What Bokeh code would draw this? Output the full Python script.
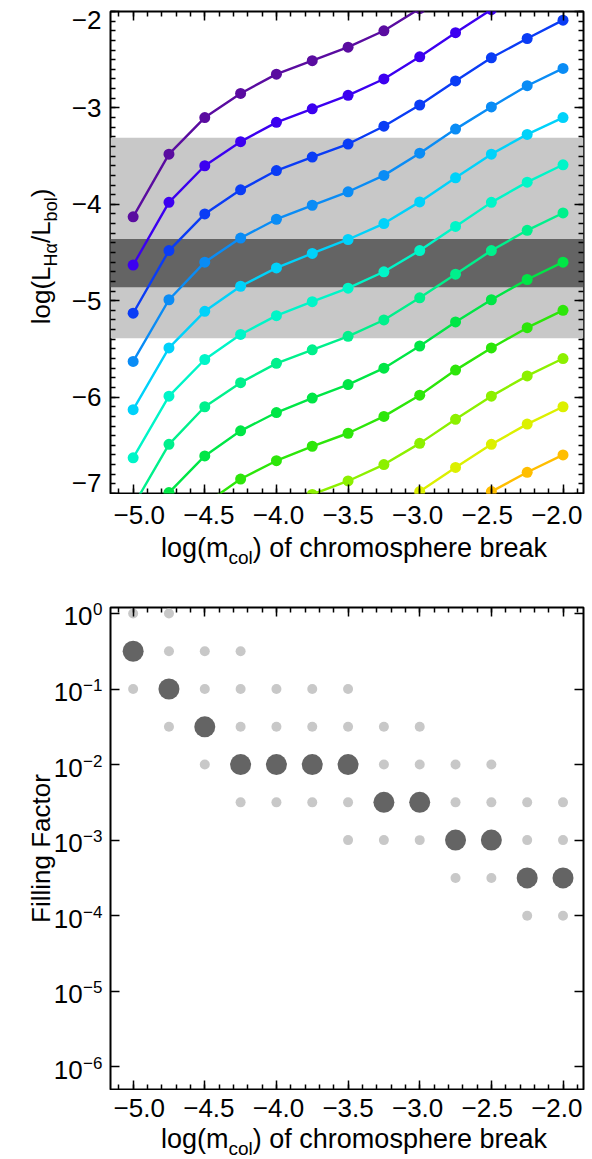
import math
import numpy as np
from bokeh.plotting import figure
from bokeh.layouts import column, row
from bokeh.models import Range1d, LinearAxis, LogAxis, FixedTicker, BoxAnnotation, Label
from bokeh.embed import file_html
from bokeh.resources import INLINE

FONT = "Liberation Sans"
nan = float("nan")

# ---------------- data: top panel ----------------
x_mcol = [-5.0, -4.75, -4.5, -4.25, -4.0, -3.75, -3.5, -3.25, -3.0, -2.75, -2.5, -2.25, -2.0]

curve_1 = [-4.13, -3.48, -3.10, -2.85, -2.65, -2.51, -2.37, -2.20, -1.97, nan, nan, nan, nan]
curve_2 = [-4.63, -3.98, -3.60, -3.35, -3.15, -3.01, -2.87, -2.70, -2.47, -2.22, -1.98, nan, nan]
curve_3 = [-5.13, -4.48, -4.10, -3.85, -3.65, -3.51, -3.375, -3.19, -2.97, -2.72, -2.48, -2.28, -2.09]
curve_4 = [-5.63, -4.99, -4.60, -4.35, -4.155, -4.01, -3.87, -3.70, -3.47, -3.22, -2.99, -2.77, -2.59]
curve_5 = [-6.13, -5.49, -5.11, -4.85, -4.66, -4.51, -4.365, -4.20, -3.975, -3.725, -3.48, -3.275, -3.10]
curve_6 = [-6.63, -5.99, -5.61, -5.35, -5.155, -5.01, -4.87, -4.70, -4.48, -4.23, -3.98, -3.77, -3.59]
curve_7 = [-7.13, -6.49, -6.10, -5.85, -5.65, -5.51, -5.37, -5.20, -4.97, -4.725, -4.48, -4.27, -4.09]
curve_8 = [nan, -6.99, -6.61, -6.35, -6.16, -6.01, -5.87, -5.70, -5.47, -5.22, -4.99, -4.78, -4.60]
curve_9 = [nan, nan, -7.11, -6.85, -6.66, -6.51, -6.375, -6.20, -5.98, -5.72, -5.49, -5.28, -5.10]
curve_10 = [nan, nan, nan, nan, -7.16, -7.01, -6.87, -6.70, -6.48, -6.23, -5.99, -5.78, -5.60]
curve_11 = [nan, nan, nan, nan, nan, nan, nan, -7.20, -6.98, -6.73, -6.49, -6.28, -6.10]
curve_12 = [nan, nan, nan, nan, nan, nan, nan, nan, nan, -7.23, -6.98, -6.78, -6.60]

curve_colors = ["#5a0ca0", "#3c00f0", "#0a3cf5", "#0a8cf5", "#00d2fa", "#00f5c8",
                "#00f08c", "#00e646", "#2de60a", "#8cf000", "#dcf000", "#ffbe00"]

band_light = [-5.39, -3.31]
band_dark = [-4.86, -4.36]

# ---------------- data: bottom panel ----------------
best_x = [-5.0, -4.75, -4.5, -4.25, -4.0, -3.75, -3.5, -3.25, -3.0, -2.75, -2.5, -2.25, -2.0]
best_y = [0.316, 0.1, 0.0316, 0.01, 0.01, 0.01, 0.01, 0.00316, 0.00316, 0.001, 0.001, 0.000316, 0.000316]

alt_x = [-5.0, -5.0,
         -4.75, -4.75, -4.75,
         -4.5, -4.5, -4.5,
         -4.25, -4.25, -4.25, -4.25,
         -4.0, -4.0, -4.0,
         -3.75, -3.75, -3.75,
         -3.5, -3.5, -3.5, -3.5,
         -3.25, -3.25, -3.25,
         -3.0, -3.0, -3.0,
         -2.75, -2.75, -2.75,
         -2.5, -2.5, -2.5,
         -2.25, -2.25, -2.25,
         -2.0, -2.0, -2.0]
alt_y = [1.0, 0.1,
         1.0, 0.316, 0.0316,
         0.316, 0.1, 0.01,
         0.316, 0.1, 0.0316, 0.00316,
         0.1, 0.0316, 0.00316,
         0.1, 0.0316, 0.00316,
         0.1, 0.0316, 0.00316, 0.001,
         0.0316, 0.01, 0.001,
         0.0316, 0.01, 0.001,
         0.01, 0.00316, 0.000316,
         0.01, 0.00316, 0.000316,
         0.00316, 0.001, 0.0001,
         0.00316, 0.001, 0.0001]

# ---------------- ticks ----------------
x_ticks = [-5.0, -4.5, -4.0, -3.5, -3.0, -2.5, -2.0]
x_tick_labels = ["\u22125.0", "\u22124.5", "\u22124.0", "\u22123.5", "\u22123.0", "\u22122.5", "\u22122.0"]
y_ticks_top = [-7.0, -6.0, -5.0, -4.0, -3.0, -2.0]
y_tick_labels_top = ["\u22127", "\u22126", "\u22125", "\u22124", "\u22123", "\u22122"]
y_ticks_bottom = [1e-6, 1e-5, 1e-4, 1e-3, 1e-2, 1e-1, 1.0]
y_tick_base_bottom = "10"
y_tick_exp_bottom = ["\u22126", "\u22125", "\u22124", "\u22123", "\u22122", "\u22121", "0"]

x_minor = [round(-5.1 + 0.1 * i, 2) for i in range(33)]
y_minor_top = [round(-7.0 + 0.1 * i, 2) for i in range(51)]

X_RANGE = (-5.158, -1.857)
Y_RANGE_TOP = (-7.0, -2.0)
Y_RANGE_BOT = (5e-7, 1.2)

# ---------------- layout constants ----------------
STRIP_W = 103          # left strip holding y tick labels + y title
MAIN_W = 487           # main figure width
BL, BR = 7, 7
FRAME_W = MAIN_W - BL - BR   # 473
FRAME_H = 482
ROW1_H, ROW2_H = 590, 569
P1_TOP, P2_TOP = 11, 17
P_BOTTOM = 1
P1_H = P1_TOP + FRAME_H + P_BOTTOM
P2_H = P2_TOP + FRAME_H + P_BOTTOM
XT1_H = ROW1_H - P1_H
XT2_H = ROW2_H - P2_H

TICK_FS = 26
EXP_FS = 17
XTITLE_FS, XSUB_FS = 27, 19
YTITLE_FS, YSUB_FS = 26, 18
MID = 0.3465   # middle of the text box above the baseline, in em

CW = {'l': 222, 'o': 556, 'g': 556, '(': 333, ')': 333, 'm': 833, 'c': 500, ' ': 278,
      'f': 278, 'h': 556, 'r': 333, 's': 500, 'p': 556, 'e': 556, 'b': 556, 'a': 556,
      'k': 500, 'L': 556, 'H': 722, '\u03b1': 579, '/': 278, 'F': 611, 'i': 222,
      'n': 556, 't': 278, '\u2212': 584, '0': 556, '1': 556, '2': 556, '3': 556,
      '4': 556, '5': 556, '6': 556, '7': 556}


def tw(s, size):
    return sum(CW.get(ch, 556) for ch in s) * size / 1000.0


def lab(p, **kw):
    base = dict(text_font=FONT, text_color="black")
    base.update(kw)
    p.add_layout(Label(**base))


def add_hlabel(p, pieces, cx, yb):
    """pieces placed left to right; cx in screen px; yb = baseline (screen, upward)."""
    total = sum(tw(t, s) for t, s, d in pieces)
    x = cx - total / 2.0
    for t, s, d in pieces:
        lab(p, x=x, y=yb - d + MID * s, x_units="screen", y_units="screen", text=t,
            text_font_size=f"{s}px", text_align="left", text_baseline="middle")
        x += tw(t, s)


def add_vlabel(p, pieces, xb, cy):
    """pieces rotated 90deg, reading upward; xb = baseline x (screen units)."""
    total = sum(tw(t, s) for t, s, d in pieces)
    y = cy - total / 2.0
    for t, s, d in pieces:
        lab(p, x=xb + d - MID * s, y=y, x_units="screen", y_units="screen", text=t,
            angle=90, angle_units="deg", text_font_size=f"{s}px", text_align="left",
            text_baseline="middle")
        y += tw(t, s)


def style_axis(ax):
    ax.axis_line_color = None
    ax.major_tick_in = 9
    ax.major_tick_out = 0
    ax.minor_tick_in = 5
    ax.minor_tick_out = 0
    ax.major_tick_line_width = 1.5
    ax.minor_tick_line_width = 1.5
    ax.major_tick_line_color = "black"
    ax.minor_tick_line_color = "black"
    ax.axis_label = None
    ax.major_label_text_color = None     # tick labels are drawn in the text strips
    ax.major_label_standoff = 0
    ax.axis_label_standoff = 0


def main_fig(height, top, y_range, y_type="linear"):
    p = figure(width=MAIN_W, height=height, x_range=Range1d(*X_RANGE), y_range=y_range,
               y_axis_type=y_type, output_backend="svg", toolbar_location=None, title=None,
               min_border_left=BL, min_border_right=BR, min_border_top=top,
               min_border_bottom=P_BOTTOM)
    p.xgrid.grid_line_color = None
    p.ygrid.grid_line_color = None
    p.outline_line_color = "black"
    p.outline_line_width = 2
    p.background_fill_color = "white"
    p.border_fill_color = "white"
    return p


def text_fig(w, h, x_range=None, y_range=None, y_type="linear"):
    p = figure(width=w, height=h,
               x_range=x_range if x_range is not None else Range1d(0, w),
               y_range=y_range if y_range is not None else Range1d(0, h),
               y_axis_type=y_type, output_backend="svg", toolbar_location=None, title=None,
               min_border=0, min_border_left=0, min_border_right=0, min_border_top=0,
               min_border_bottom=0)
    for a in p.axis:
        a.visible = False
    p.xgrid.visible = False
    p.ygrid.visible = False
    p.outline_line_color = None
    p.background_fill_color = "white"
    p.border_fill_color = "white"
    return p


def add_axes(p, y_ticks, y_minor, log=False):
    bx = p.xaxis[0]
    bx.ticker = FixedTicker(ticks=x_ticks, minor_ticks=x_minor)
    style_axis(bx)
    ly = p.yaxis[0]
    ly.ticker = FixedTicker(ticks=y_ticks, minor_ticks=y_minor)
    style_axis(ly)
    top = LinearAxis(ticker=FixedTicker(ticks=x_ticks, minor_ticks=x_minor))
    style_axis(top)
    p.add_layout(top, "above")
    right = (LogAxis if log else LinearAxis)(ticker=FixedTicker(ticks=y_ticks, minor_ticks=y_minor))
    style_axis(right)
    p.add_layout(right, "right")


# x mapping of the text strips under the plots equals the frame mapping of the plots
dppx = (X_RANGE[1] - X_RANGE[0]) / FRAME_W
XT_RANGE = (X_RANGE[0] - BL * dppx, X_RANGE[1] + BR * dppx)
xt_title = [("log(m", XTITLE_FS, 0), ("col", XSUB_FS, 7),
            (") of chromosphere break", XTITLE_FS, 0)]


def x_strip(h, label_center_below, title_baseline_below):
    p = text_fig(MAIN_W, h, x_range=Range1d(*XT_RANGE))
    for t, s in zip(x_ticks, x_tick_labels):
        lab(p, x=t, y=h - label_center_below, x_units="data", y_units="screen", text=s,
            text_font_size=f"{TICK_FS}px", text_align="center", text_baseline="middle")
    add_hlabel(p, xt_title, BL + FRAME_W / 2.0, h - title_baseline_below)
    return p


# ================= top panel =================
p1 = main_fig(P1_H, P1_TOP, Range1d(*Y_RANGE_TOP))

p1.add_layout(BoxAnnotation(bottom=band_light[0], top=band_light[1], fill_color="#c8c8c8",
                            fill_alpha=1.0, line_color=None, level="underlay"))
p1.add_layout(BoxAnnotation(bottom=band_dark[0], top=band_dark[1], fill_color="#646464",
                            fill_alpha=1.0, line_color=None, level="underlay"))

curves = [curve_1, curve_2, curve_3, curve_4, curve_5, curve_6,
          curve_7, curve_8, curve_9, curve_10, curve_11, curve_12]
for cv, col in zip(curves, curve_colors):
    ys = np.array(cv, dtype=float)
    xs = np.array(x_mcol, dtype=float)
    p1.line(xs, ys, line_color=col, line_width=2.4)
    p1.scatter(xs, ys, marker="circle", size=11, fill_color=col, line_color=None)

add_axes(p1, y_ticks_top, y_minor_top)

# left strip: y tick labels + y title (same vertical mapping as the frame of p1)
dpp1 = (Y_RANGE_TOP[1] - Y_RANGE_TOP[0]) / FRAME_H
yt1 = text_fig(STRIP_W, ROW1_H,
               y_range=Range1d(Y_RANGE_TOP[0] - (ROW1_H - P1_TOP - FRAME_H) * dpp1,
                               Y_RANGE_TOP[1] + P1_TOP * dpp1))
edge_shift = {-2.0: -8.5, -7.0: 10.5}
for t, s in zip(y_ticks_top, y_tick_labels_top):
    lab(yt1, x=STRIP_W - 2, y=t, x_units="data", y_units="data", text=s,
        y_offset=edge_shift.get(t, 0.0), text_font_size=f"{TICK_FS}px",
        text_align="right", text_baseline="middle")
add_vlabel(yt1, [("log(L", YTITLE_FS, 0), ("H\u03b1", YSUB_FS, 7), ("/L", YTITLE_FS, 0),
                 ("bol", YSUB_FS, 7), (")", YTITLE_FS, 0)], 50, ROW1_H - 256)

# strip under p1: frame bottom is at page y 493; labels centred ~21px below, title baseline ~556.7
xt1 = x_strip(XT1_H, 514 - P1_H, 556.7 - P1_H)

# ================= bottom panel =================
p2 = main_fig(P2_H, P2_TOP, Range1d(*Y_RANGE_BOT), "log")

p2.scatter(alt_x, alt_y, marker="circle", size=10, fill_color="#c8c8c8", line_color=None)
p2.scatter(best_x, best_y, marker="circle", size=21, fill_color="#646464", line_color=None)

add_axes(p2, y_ticks_bottom, [], log=True)

lo, hi = math.log10(Y_RANGE_BOT[0]), math.log10(Y_RANGE_BOT[1])
dpp2 = (hi - lo) / FRAME_H
yt2 = text_fig(STRIP_W, ROW2_H,
               y_range=Range1d(10 ** (lo - (ROW2_H - P2_TOP - FRAME_H) * dpp2),
                               10 ** (hi + P2_TOP * dpp2)), y_type="log")
x_right = STRIP_W - 1
for t, e in zip(y_ticks_bottom, y_tick_exp_bottom):
    lab(yt2, x=x_right, y=t, x_units="data", y_units="data", text=e, y_offset=4,
        text_font_size=f"{EXP_FS}px", text_align="right", text_baseline="middle")
    lab(yt2, x=x_right - tw(e, EXP_FS) - 0.5, y=t, x_units="data", y_units="data",
        text=y_tick_base_bottom, y_offset=-3, text_font_size=f"{TICK_FS}px",
        text_align="right", text_baseline="middle")
add_vlabel(yt2, [("Filling Factor", YTITLE_FS, 0)], 50, ROW2_H - (848 - ROW1_H))

# strip under p2: page y 1089 frame bottom; labels centred ~1107, title baseline ~1148
xt2 = x_strip(XT2_H, 1107 - ROW1_H - P2_H, 1148 - ROW1_H - P2_H)

layout = column(
    row(yt1, column(p1, xt1, spacing=0), spacing=0),
    row(yt2, column(p2, xt2, spacing=0), spacing=0),
    spacing=0,
)
open("out.html", "w").write(file_html(layout, INLINE))
